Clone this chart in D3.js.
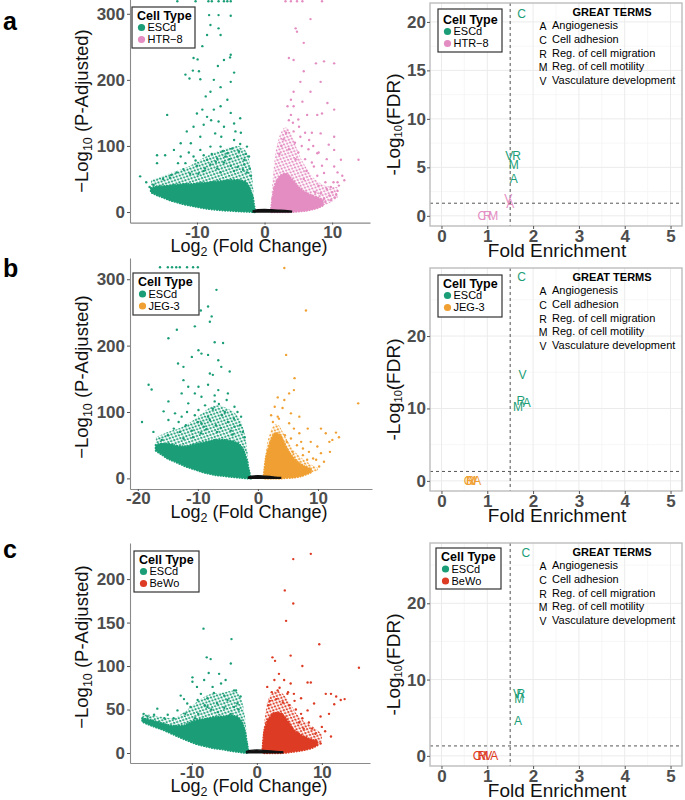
<!DOCTYPE html>
<html>
<head>
<meta charset="utf-8">
<script src="https://cdn.jsdelivr.net/npm/d3@7"></script>
<style>
  body { margin: 0; background: #fff; }
  text { font-family: "Liberation Sans", Arial, sans-serif; }
</style>
</head>
<body>
<script>
// ---------- data: volcano plots ----------
// envelopes: [log2FC, low, high] of -log10(padj); "core" = solid, "mid" = speckled cloud
let volcA_escdCore = [[-16.8,30,36],[-16,26,38],[-15,22,39],[-14,18,40],[-13,15,41],[-12,12,42],[-11,10,42],[-10,8,43],[-9,6,44],[-8,4.5,45],[-7,3.5,46],[-6,2.5,47],[-5,2,48],[-4,1.2,48],[-3,0.8,46],[-2.4,0.5,40],[-2,0.3,30],[-1.7,0.2,18],[-1.45,0,4]];
let volcA_escdMid = [[-16.8,30,48],[-15,22,55],[-13,15,62],[-11,10,70],[-9,6,82],[-7,3.5,92],[-5,2,98],[-4,1.2,100],[-3,0.8,95],[-2.3,0.5,80],[-1.8,0.2,50],[-1.5,0,15]];
let volcA_htr8Core = [[1.0,0,6],[1.2,0,22],[1.5,0,38],[2,0,50],[2.5,0,56],[3,0,58],[3.5,0,56],[4,0.3,50],[4.5,0.6,44],[5,1,38],[6,2,30],[7,4,25],[8,7,21],[8.6,10,18]];
let volcA_htr8Mid = [[1.0,0,20],[1.5,0,80],[2,0,108],[2.5,0,122],[3,0,128],[3.5,0,126],[4,0.3,118],[4.5,0.6,104],[5,1,90],[6,2,70],[7,4,55],[8,7,45],[9,11,40],[10,16,38],[10.8,21,38]];
let volcA_ns = [[-1.7,0,2],[-1,0,3.5],[0,0,4],[1,0,3.5],[2,0,3],[3,0,2.5],[4,0,1.5]];
let volcA_escdPts = [
  [-12.9,319],[-10.2,319],[-8.3,319],[-7.8,319],[-6.8,319],[-6.0,319],[-5.5,319],[-5.0,319],
  [-8.2,298],[-6.8,298],[-5.0,297],[-8.0,283],[-6.8,278],[-8.5,268],[-6.5,268],[-9.2,251],[-5.0,238],[-6.0,230],[-5.1,234],
  [-10.5,233],[-9.9,231],[-6.9,221],[-10.6,214],[-11.7,208],[-9.7,213],[-9.5,201],[-11.1,202],[-7.5,200],[-4.5,211],[-5.0,197],
  [-6.5,189],[-8.0,182],[-8.7,175],[-5.5,170],[-6.5,160],[-7.5,155],[-9.2,155],[-10.0,149],[-5.0,150],[-14.4,147],[-8.5,144],
  [-7.9,139],[-6.8,137],[-4.5,134],[-3.6,142],[-9.0,132],[-10.5,129],[-6.0,129],[-11.5,122],[-7.3,119],[-4.3,122],[-3.5,120],
  [-6.4,114],[-9.5,114],[-12.4,104],[-10.9,104],[-13.4,94],[-14.7,86],[-15.9,86],[-12.4,84],[-9.5,94],[-8.0,99],[-6.5,99],
  [-4.5,109],[-3.6,103],[-5.5,89],[-4.0,84],[-2.6,99],[-2.3,84],[-3.0,79],[-7.0,81],[-8.5,79],[-10.5,84],[-11.7,74],[-15.9,74],
  [-18.4,54],[-16.4,41],[-17.5,45],[-17,38],[-13,60],[-12,65],[-10,70],[-9,62],[-8,72],[-7,66],[-6,75],[-5,70],[-4,68],[-3,72],
  [-2.2,66],[-11,58],[-14,52],[-6.5,60],[-4.5,62],[-3.2,64],[-9.8,58],[-7.8,88],[-6.2,92],[-5.2,80],[-3.8,92],[-2.8,88],[-8.8,66],
  [-7.2,76],[-5.8,84],[-4.8,96],[-10.2,78],[-12.8,74],[-11.2,90],[-9,86],[-15,50],[-13.8,56],[-2,55],[-2.6,60]
];
let volcA_htr8Pts = [
  [3.1,319],[3.9,319],[4.8,319],[5.6,319],[8.5,319],
  [6.8,292],[4.6,278],[4.8,273],[5.8,256],[3.6,233],[4.3,230],[8.8,228],[7.6,225],[10.3,225],[5.8,213],[5.3,197],[8.3,197],
  [4.3,182],[3.9,170],[5.6,167],[6.8,182],[4.3,160],[6.3,147],[7.8,147],[8.5,149],[3.9,147],[3.6,139],[5.1,129],[4.3,122],
  [8.3,119],[10.3,114],[5.3,114],[6.6,109],[9.5,102],[10.3,94],[7.8,89],[11.3,79],[11.8,48],[8.8,59],[10.3,69],[7.3,69],
  [3.4,160],[9.3,165],[10.3,155],[13.9,79],
  [5,90],[6,80],[6.5,95],[7,75],[5.5,100],[4.5,105],[6.2,62],[7.8,55],[9,45],[9.8,38],[10.8,45],[11.5,55],[8.5,70],[7.2,100],
  [6,120],[5,140],[4.2,135],[3.2,120],[2.8,110],[2.5,100],[7,120],[8,90],[9.2,80],[10.8,60],[5.8,50],[4.6,80],[3.6,95],[2.2,88],
  [8.3,28],[8.8,20],[9.2,35],[9.6,25],[10,30],[10.4,22],[10.8,32],[11,40],[9,15],[8,40],[7.5,30],[10.2,45],[9.8,18],[10.6,26]
];

let volcB_escdCore = [[-17,42,50],[-16,36,52],[-15,30,52],[-14,26,50],[-13,22,48],[-12,18,48],[-11,15,50],[-10,12,52],[-9,9,54],[-8,7,56],[-7,5,58],[-6,4,58],[-5,3,57],[-4,2,55],[-3,1.2,50],[-2.4,0.7,42],[-1.9,0.3,28],[-1.5,0.1,12],[-1.25,0,2]];
let volcB_escdMid = [[-17,42,62],[-15,30,70],[-13,22,76],[-11,15,86],[-9,9,100],[-7,5,110],[-5,3,105],[-3.5,1.5,95],[-2.5,0.7,78],[-1.8,0.3,45],[-1.4,0,10]];
let volcB_jeg3Core = [[1.0,0,5],[1.3,0,28],[1.8,0,46],[2.3,0,60],[3,0,68],[3.6,0,66],[4.2,0.3,56],[5,0.8,42],[6,1.5,30],[7,3,22],[8,6,17],[8.8,9,14]];
let volcB_jeg3Mid = [[1.0,0,12],[1.5,0,50],[2,0,68],[2.5,0,78],[3,0,82],[3.5,0,80],[4,0.3,72],[5,0.8,56],[6,1.5,42],[7,3,33],[8,6,26],[9,9,20],[10,11,16]];
let volcB_ns = [[-1.6,0,2],[-1,0,3.5],[0,0,4],[1,0,3.5],[2,0,3],[3,0,2],[3.8,0,1.5]];
let volcB_escdPts = [
  [-16.3,318],[-15,318],[-14.3,318],[-13.6,318],[-13,318],[-11.8,318],[-10.8,318],[-10,318],
  [-6.9,284],[-8.3,259],[-9.5,253],[-7.7,244],[-8.0,236],[-10.5,229],[-13.5,224],[-14.9,211],[-7.2,205],[-5.8,204],[-9.9,193],
  [-9.4,188],[-8.3,186],[-11.0,183],[-6.6,178],[-13.3,173],[-12.4,168],[-6.1,168],[-8.0,158],[-7.5,156],[-4.7,161],[-12.4,148],
  [-18.2,141],[-17.7,134],[-11.6,138],[-9.9,138],[-8.3,141],[-12.7,128],[-10.5,128],[-6.6,133],[-9.4,123],[-5.0,128],[-14.9,116],
  [-11.6,113],[-7.2,116],[-15.7,101],[-13.8,98],[-9.9,103],[-3.9,108],[-19.3,85],[-17.4,70],[-14.9,88],[-12.7,93],[-8.3,93],
  [-2.8,93],[-3.9,78],[-9.4,83],
  [-14,75],[-13,70],[-12,80],[-11,72],[-10,85],[-9,78],[-8,88],[-7,80],[-6,95],[-5,85],[-4,90],[-3,80],[-2.5,70],[-10.5,95],
  [-7.5,105],[-6.5,112],[-5.5,100],[-8.8,110],[-11.8,100],[-13.2,85],[-15,65],[-16,58],[-4.5,72],[-6.8,70],[-9.5,68],[-12.4,60],
  [-7.2,125],[-5.2,118],[-3.4,100],[-8.6,74],[-6.2,76],[-10.8,62],[-2.2,62],[-4.2,66]
];
let volcB_jeg3Pts = [
  [4.4,317],[8.0,253],[4.7,186],[6.1,151],[6.0,133],[5.2,128],[3.3,122],[4.4,118],[2.8,108],[4.1,106],[5.5,98],[6.9,93],
  [3.3,93],[5.2,83],[6.9,68],[8.3,75],[10.5,75],[11.3,68],[13.0,69],[12.4,58],[11.9,55],[8.8,55],[9.9,48],[10.5,38],[7.2,55],
  [9.7,28],[10.2,18],[16.7,113],
  [5.5,60],[6.5,50],[7.5,45],[4.5,65],[3.5,90],[2.5,85],[6,75],[7.5,35],[8.5,40],[4.8,55],[2.2,95],[5.8,40],[9.2,30],[8.2,28],
  [11,25],[12,40],[13.5,62]
];

let volcC_escdCore = [[-17.6,36,40],[-16,31,37],[-14.5,27,34],[-13,22,31],[-11.5,17,31],[-10.5,14,34],[-9.5,11,37],[-8,8,39],[-6.5,5.5,41],[-5,4,42],[-4,2.5,43],[-3,1.5,41],[-2.3,0.8,35],[-1.8,0.3,23],[-1.5,0.1,10],[-1.3,0,2]];
let volcC_escdMid = [[-17.6,36,45],[-15,28,42],[-13,22,40],[-11,15,48],[-9,10,60],[-7,7,68],[-5,4,70],[-3.5,2,72],[-2.5,1,64],[-1.8,0.3,40],[-1.4,0,8]];
let volcC_bewoCore = [[0.9,0,5],[1.1,0,22],[1.5,0,34],[2,0,41],[2.7,0,46],[3.5,0,46],[4.2,0.3,42],[4.8,0.8,36],[5.5,1.5,28],[6.5,2.5,22],[7.5,4,18],[8.5,6,15],[9.3,9,14]];
let volcC_bewoMid = [[0.9,0,14],[1.5,0,55],[2,0,65],[3,0,72],[4,0.2,68],[5,1,58],[6,2,46],[7,3,38],[8,5,33],[9,8,28],[10,11,22]];
let volcC_ns = [[-1.6,0,2],[-1,0,3],[0,0,3.5],[1,0,3],[2,0,2.5],[3,0,2],[4,0,1.5]];
let volcC_escdPts = [
  [-8.2,143],[-3.9,131],[-7.7,110],[-7.1,108],[-4.0,103],[-5.8,91],[-9.9,87],[-9.9,82],[-8.1,84],[-5.5,80],[-11.7,66],[-8.6,68],
  [-6.6,69],[-3.5,72],[-7.6,63],[-9.1,61],[-10.7,57],[-4.5,61],[-2.5,65],[-3.0,57],[-6.1,57],[-15.3,51],[-16.8,42],[-13.7,44],
  [-12.2,49],[-10.2,53],[-3.5,53],[-7.6,53],
  [-9,45],[-7,50],[-5,52],[-4,45],[-6,47],[-8,55],[-2.8,50],[-11,45],[-9.5,40],[-5,66],[-3.2,72],[-6.8,76],[-4.8,84],[-7.4,92],
  [-9.2,76],[-11.2,62],[-12.8,40],[-14.2,40],[-15.8,44],[-17.4,45]
];
let volcC_bewoPts = [
  [8.3,229],[5.6,223],[4.3,187],[5.6,172],[4.5,152],[9.6,125],[5.2,112],[2.4,110],[2.8,106],[7.0,100],[3.4,91],[2.7,84],
  [4.2,84],[5.2,80],[7.8,81],[8.3,81],[1.6,76],[3.2,72],[4.7,68],[5.7,68],[6.8,63],[10.6,68],[11.4,68],[12.2,65],[12.9,61],
  [11.9,56],[11.1,45],[8.8,57],[7.8,49],[9.8,42],[6.8,45],[11.4,19],[9.8,11],[15.7,98],[13.5,62],
  [2,60],[3,62],[4,58],[5,55],[6,50],[7,40],[8,35],[3.5,75],[4.8,70],[5.8,60],[6.5,35],[8.5,28],[10,30],[2.3,70],[1.8,55],
  [9,22],[10.5,25],[7.2,28]
];

// ---------- data: GREAT enrichment ----------
let termCodes = ["A", "C", "R", "M", "V"];
let termNames = ["Angiogenesis", "Cell adhesion", "Reg. of cell migration", "Reg. of cell motility", "Vasculature development"];
// fold enrichment and -log10(FDR), in termCodes order
let enrA_escdFE = [1.58, 1.75, 1.64, 1.58, 1.48];
let enrA_escdFDR = [3.8, 20.9, 6.2, 5.3, 6.2];
let enrA_htr8FE = [1.5, 0.88, 1.0, 1.13, 1.46];
let enrA_htr8FDR = [1.3, 0, 0, 0, 1.8];
let enrB_escdFE = [1.86, 1.75, 1.73, 1.67, 1.77];
let enrB_escdFDR = [10.8, 28.2, 11.1, 10.3, 14.6];
let enrB_jeg3FE = [0.78, 0.58, 0.63, 0.65, 0.7];
let enrB_jeg3FDR = [0, 0, 0, 0, 0];
let enrC_escdFE = [1.67, 1.84, 1.73, 1.7, 1.65];
let enrC_escdFDR = [4.6, 26.6, 8.2, 7.5, 8.2];
let enrC_bewoFE = [1.15, 0.78, 0.88, 0.92, 1.02];
let enrC_bewoFDR = [0, 0, 0, 0, 0];
let feCut = 1.5;
let fdrCut = 1.3;

let volcXTicksA = [-10, 0, 10], volcYTicksA = [0, 100, 200, 300];
let volcXTicksB = [-20, -10, 0, 10], volcYTicksB = [0, 100, 200, 300];
let volcXTicksC = [-10, 0, 10], volcYTicksC = [0, 50, 100, 150, 200];
let enrXTicks = [0, 1, 2, 3, 4, 5];
let enrYTicksA = [0, 5, 10, 15, 20], enrYTicksB = [0, 10, 20], enrYTicksC = [0, 10, 20];

// ---------- styles ----------
let colors = { "ESCd": "#1B9E77", "HTR−8": "#E48DC2", "JEG-3": "#F0A032", "BeWo": "#DD3B24" };
let tickGrey = "#4D4D4D";

let svg = d3.select("body").append("svg").attr("width", 685).attr("height", 800);

// speckle patterns used for the medium-density part of each point cloud
let defs = svg.append("defs");
Object.keys(colors).forEach((k, i) => {
  let pat = defs.append("pattern").attr("id", "speck" + i).attr("patternUnits", "userSpaceOnUse")
    .attr("width", 4.8).attr("height", 4.2).attr("patternTransform", "rotate(23)");
  pat.append("circle").attr("cx", 1.2).attr("cy", 1.05).attr("r", 1.1).attr("fill", colors[k]);
  pat.append("circle").attr("cx", 3.6).attr("cy", 3.15).attr("r", 1.1).attr("fill", colors[k]);
});
let speckId = n => "url(#speck" + Object.keys(colors).indexOf(n) + ")";

function styleTicks(sel) {
  sel.selectAll("text").attr("font-size", 17).attr("font-weight", "bold").attr("fill", tickGrey)
    .style("font-family", '"Liberation Sans", Arial, sans-serif');
  sel.selectAll("line").attr("stroke", "#555");
}

function legend(box, names) {
  let g = svg.append("g");
  g.append("rect").attr("x", box.x).attr("y", box.y).attr("width", box.w).attr("height", box.h)
    .attr("fill", "#fff").attr("stroke", "#333").attr("stroke-width", 1.2);
  g.append("text").attr("x", box.x + 5).attr("y", box.y + box.t).attr("dy", "0.35em")
    .attr("font-size", 12.5).attr("font-weight", "bold").text("Cell Type");
  names.forEach((n, i) => {
    let cy = box.y + box.r0 + i * 12;
    g.append("circle").attr("cx", box.x + 9.5).attr("cy", cy).attr("r", 3.6).attr("fill", colors[n]);
    g.append("text").attr("x", box.x + 15.5).attr("y", cy).attr("dy", "0.35em").attr("font-size", 11).text(n);
  });
}

function drawVolcano(p) {
  let x = d3.scaleLinear().domain(p.xDomain).range(p.xRange);
  let y = d3.scaleLinear().domain(p.yDomain).range(p.yRange);
  let g = svg.append("g");
  let area = d3.area().x(d => x(d[0])).y0(d => y(d[1])).y1(d => y(d[2])).curve(d3.curveMonotoneX);
  p.groups.forEach(gr => {
    g.append("path").attr("d", area(gr.mid)).attr("fill", speckId(gr.name));
    g.append("path").attr("d", area(gr.core)).attr("fill", colors[gr.name])
      .attr("stroke", colors[gr.name]).attr("stroke-width", 2.4).attr("stroke-dasharray", "0.1,2.6")
      .attr("stroke-linecap", "round");
    g.selectAll(null).data(gr.pts).join("circle")
      .attr("cx", d => x(d[0])).attr("cy", d => y(d[1])).attr("r", 1.2).attr("fill", colors[gr.name]);
  });
  g.append("path").attr("d", area(p.ns)).attr("fill", "#111").attr("stroke", "#111").attr("stroke-width", 1.2);

  let xa = g.append("g").attr("transform", `translate(0,${p.yRange[0]})`)
    .call(d3.axisBottom(x).tickValues(p.xTicks).tickSize(2).tickSizeOuter(0).tickPadding(1).tickFormat(d => String(d)));
  let ya = g.append("g").attr("transform", `translate(${p.xRange[0]},0)`)
    .call(d3.axisLeft(y).tickValues(p.yTicks).tickSize(3).tickSizeOuter(0).tickPadding(2).tickFormat(d => String(d)));
  [xa, ya].forEach(a => { styleTicks(a); a.select(".domain").attr("stroke", "#8a8a8a").attr("stroke-width", 1.1); });

  let yt = g.append("text").attr("transform", `translate(88,${p.yTitle}) rotate(-90)`)
    .attr("text-anchor", "middle").attr("font-size", 18.5).attr("fill", "#111");
  yt.append("tspan").text("−Log");
  yt.append("tspan").attr("font-size", 12.5).attr("dy", 4).text("10");
  yt.append("tspan").attr("dy", -4).text(" (P-Adjusted)");
  let xt = g.append("text").attr("x", 249).attr("y", p.yRange[0] + 29)
    .attr("text-anchor", "middle").attr("font-size", 18).attr("fill", "#111");
  xt.append("tspan").text("Log");
  xt.append("tspan").attr("font-size", 12.5).attr("dy", 4).text("2");
  xt.append("tspan").attr("dy", -4).text(" (Fold Change)");

  legend(p.legend, p.groups.map(d => d.name));
}

function drawEnrich(p) {
  let x = d3.scaleLinear().domain([-0.25, 5.25]).range([430, 682]);
  let y = d3.scaleLinear().domain(p.yDomain).range(p.yRange);
  let g = svg.append("g");
  let top = p.yRange[1], bot = p.yRange[0];
  let xMinor = enrXTicks.slice(0, -1).map(v => v + 0.5);
  let step = p.yTicks[1] - p.yTicks[0];
  let yMinor = p.yTicks.map(v => v + step / 2).filter(v => v < p.yDomain[1]);
  g.selectAll(null).data(xMinor).join("line").attr("x1", x).attr("x2", x).attr("y1", top).attr("y2", bot)
    .attr("stroke", "#F4F4F4").attr("stroke-width", 0.7);
  g.selectAll(null).data(yMinor).join("line").attr("y1", y).attr("y2", y).attr("x1", 430).attr("x2", 682)
    .attr("stroke", "#F4F4F4").attr("stroke-width", 0.7);
  g.selectAll(null).data(enrXTicks).join("line").attr("x1", x).attr("x2", x).attr("y1", top).attr("y2", bot)
    .attr("stroke", "#EBEBEB").attr("stroke-width", 1);
  g.selectAll(null).data(p.yTicks).join("line").attr("y1", y).attr("y2", y).attr("x1", 430).attr("x2", 682)
    .attr("stroke", "#EBEBEB").attr("stroke-width", 1);

  g.append("line").attr("x1", x(feCut)).attr("x2", x(feCut)).attr("y1", top).attr("y2", bot)
    .attr("stroke", "#555").attr("stroke-dasharray", "3,3");
  g.append("line").attr("y1", y(fdrCut)).attr("y2", y(fdrCut)).attr("x1", 430).attr("x2", 682)
    .attr("stroke", "#555").attr("stroke-dasharray", "3,3");

  p.groups.forEach(gr => {
    g.selectAll(null).data(termCodes).join("text")
      .attr("x", (d, i) => x(gr.fe[i])).attr("y", (d, i) => y(gr.fdr[i])).attr("dy", "0.36em")
      .attr("text-anchor", "middle").attr("font-size", 12).attr("fill", colors[gr.name]).text(d => d);
  });

  g.append("rect").attr("x", 430).attr("y", top).attr("width", 252).attr("height", bot - top)
    .attr("fill", "none").attr("stroke", "#BDBDBD").attr("stroke-width", 1.4);

  let xa = g.append("g").attr("transform", `translate(0,${bot})`)
    .call(d3.axisBottom(x).tickValues(enrXTicks).tickSize(3).tickSizeOuter(0).tickPadding(1).tickFormat(d3.format("d")));
  let ya = g.append("g").attr("transform", "translate(430,0)")
    .call(d3.axisLeft(y).tickValues(p.yTicks).tickSize(3).tickSizeOuter(0).tickPadding(1).tickFormat(d3.format("d")));
  [xa, ya].forEach(a => { styleTicks(a); a.select(".domain").remove(); });

  let yt = g.append("text").attr("transform", `translate(400,${(top + bot) / 2 + 10}) rotate(-90)`)
    .attr("text-anchor", "middle").attr("font-size", 19).attr("fill", "#111");
  yt.append("tspan").text("-Log");
  yt.append("tspan").attr("font-size", 11).attr("dy", 2).text("10");
  yt.append("tspan").attr("dy", -2).text("(FDR)");
  g.append("text").attr("x", 557).attr("y", bot + 31).attr("text-anchor", "middle")
    .attr("font-size", 19).attr("fill", "#111").text("Fold Enrichment");

  // GREAT TERMS key
  g.append("text").attr("x", 612).attr("y", top + 9).attr("dy", "0.35em").attr("text-anchor", "middle")
    .attr("font-size", 11).attr("font-weight", "bold").text("GREAT TERMS");
  let rowY = [22, 36, 50, 63, 77];
  termCodes.forEach((c, i) => {
    g.append("text").attr("x", 543).attr("y", top + rowY[i]).attr("dy", "0.45em").attr("text-anchor", "middle")
      .attr("font-size", 10.5).text(c);
    g.append("text").attr("x", 552).attr("y", top + rowY[i]).attr("dy", "0.35em")
      .attr("font-size", 11).text(termNames[i]);
  });

  legend(p.legend, p.groups.map(d => d.name));
}

// ---------- panels ----------
drawVolcano({
  xDomain: [-19.9, 15.6], xRange: [130, 370], yDomain: [-16, 336], yRange: [222.6, -10],
  xTicks: volcXTicksA, yTicks: volcYTicksA, yTitle: 111, ns: volcA_ns,
  groups: [{ name: "ESCd", core: volcA_escdCore, mid: volcA_escdMid, pts: volcA_escdPts },
           { name: "HTR−8", core: volcA_htr8Core, mid: volcA_htr8Mid, pts: volcA_htr8Pts }],
  legend: { x: 132, y: 7, w: 63, h: 41, t: 8.5, r0: 20.5 }
});
drawVolcano({
  xDomain: [-21.3, 19], xRange: [130, 372], yDomain: [-16, 332], yRange: [489, 258],
  xTicks: volcXTicksB, yTicks: volcYTicksB, yTitle: 377, ns: volcB_ns,
  groups: [{ name: "ESCd", core: volcB_escdCore, mid: volcB_escdMid, pts: volcB_escdPts },
           { name: "JEG-3", core: volcB_jeg3Core, mid: volcB_jeg3Mid, pts: volcB_jeg3Pts }],
  legend: { x: 133, y: 273, w: 66, h: 42, t: 9, r0: 21 }
});
drawVolcano({
  xDomain: [-19.5, 17.4], xRange: [130, 370], yDomain: [-11.5, 241.5], yRange: [763, 543],
  xTicks: volcXTicksC, yTicks: volcYTicksC, yTitle: 647, ns: volcC_ns,
  groups: [{ name: "ESCd", core: volcC_escdCore, mid: volcC_escdMid, pts: volcC_escdPts },
           { name: "BeWo", core: volcC_bewoCore, mid: volcC_bewoMid, pts: volcC_bewoPts }],
  legend: { x: 134, y: 551, w: 65, h: 41, t: 8.5, r0: 20.5 }
});

drawEnrich({
  yDomain: [-1.05, 21.95], yRange: [226, 3], yTicks: enrYTicksA,
  groups: [{ name: "ESCd", fe: enrA_escdFE, fdr: enrA_escdFDR }, { name: "HTR−8", fe: enrA_htr8FE, fdr: enrA_htr8FDR }],
  legend: { x: 438, y: 9, w: 64, h: 43, t: 10.5, r0: 22.5 }
});
drawEnrich({
  yDomain: [-1.4, 29.4], yRange: [491, 268], yTicks: enrYTicksB,
  groups: [{ name: "ESCd", fe: enrB_escdFE, fdr: enrB_escdFDR }, { name: "JEG-3", fe: enrB_jeg3FE, fdr: enrB_jeg3FDR }],
  legend: { x: 438, y: 275, w: 64, h: 42, t: 9, r0: 20.5 }
});
drawEnrich({
  yDomain: [-1.33, 27.9], yRange: [766, 543], yTicks: enrYTicksC,
  groups: [{ name: "ESCd", fe: enrC_escdFE, fdr: enrC_escdFDR }, { name: "BeWo", fe: enrC_bewoFE, fdr: enrC_bewoFDR }],
  legend: { x: 436, y: 548, w: 65, h: 41, t: 9, r0: 21 }
});

// panel letters
[["a", 30], ["b", 277], ["c", 558]].forEach(([t, yb]) => {
  svg.append("text").attr("x", 3).attr("y", yb).attr("font-size", 25).attr("font-weight", "bold").text(t);
});
</script>
</body>
</html>
